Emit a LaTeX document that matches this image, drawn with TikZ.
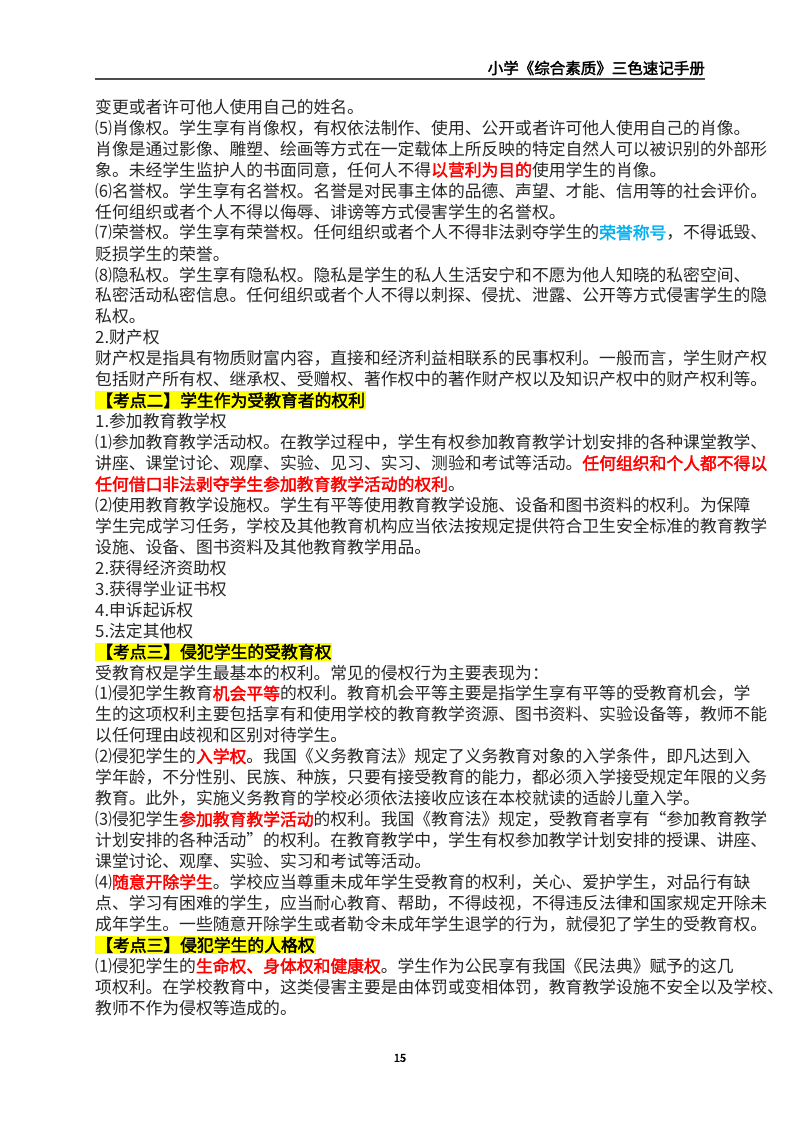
\documentclass[tikz,border=0pt]{standalone}
\usepackage{fontspec}
\setmainfont{Noto Sans CJK SC}
\newfontfamily\bcjk{Noto Sans CJK SC}[FakeBold=2.2]
\XeTeXlinebreaklocale "zh"
\XeTeXlinebreakskip=0pt plus 3pt minus 5pt
\definecolor{kred}{HTML}{FF0000}
\definecolor{kblue}{HTML}{00B0F0}
\definecolor{kyel}{HTML}{FFFF00}
\newcommand{\R}[1]{{\bcjk\color{kred}#1}}
\newcommand{\B}[1]{{\bcjk\color{kblue}#1}}
\newcommand{\TL}[3][ln]{\node[#1] (l#2) at (95,{107+#2*20.95}) {#3};}
\newcommand{\FL}[2]{\node[ln] (l#1) at (95,{107+#1*20.95}) {\makebox[610pt][s]{#2}};}
\begin{document}
\begin{tikzpicture}[x=1pt,y=-1pt,
  ln/.style={anchor=west,inner sep=0pt,font=\fontsize{16.8}{21}\selectfont,text=black!85},
  hd/.style={anchor=west,inner sep=1pt,fill=kyel,font=\fontsize{16.8}{21}\selectfont\bcjk}]
\useasboundingbox[fill=white] (0,0) rectangle (800,1132);
\node[anchor=east,inner sep=0pt,font=\fontsize{15.5}{18}\selectfont\bcjk] (hdr) at (705,68) {小学《综合素质》三色速记手册};
\draw[black!70,line width=1.2pt] (95,79) -- (705,79);
\TL{0}{变更或者许可他人使用自己的姓名。}
\FL{1}{⑸肖像权。学生享有肖像权，有权依法制作、使用、公开或者许可他人使用自己的肖像。}
\FL{2}{肖像是通过影像、雕塑、绘画等方式在一定载体上所反映的特定自然人可以被识别的外部形}
\TL{3}{象。未经学生监护人的书面同意，任何人不得\R{以营利为目的}使用学生的肖像。}
\FL{4}{⑹名誉权。学生享有名誉权。名誉是对民事主体的品德、声望、才能、信用等的社会评价。}
\TL{5}{任何组织或者个人不得以侮辱、诽谤等方式侵害学生的名誉权。}
\FL{6}{⑺荣誉权。学生享有荣誉权。任何组织或者个人不得非法剥夺学生的\B{荣誉称号}，不得诋毁、}
\TL{7}{贬损学生的荣誉。}
\FL{8}{⑻隐私权。学生享有隐私权。隐私是学生的私人生活安宁和不愿为他人知晓的私密空间、}
\FL{9}{私密活动私密信息。任何组织或者个人不得以刺探、侵扰、泄露、公开等方式侵害学生的隐}
\TL{10}{私权。}
\TL{11}{2.财产权}
\FL{12}{财产权是指具有物质财富内容，直接和经济利益相联系的民事权利。一般而言，学生财产权}
\FL{13}{包括财产所有权、继承权、受赠权、著作权中的著作财产权以及知识产权中的财产权利等。}
\TL[hd]{14}{【考点二】学生作为受教育者的权利}
\TL{15}{1.参加教育教学权}
\FL{16}{⑴参加教育教学活动权。在教学过程中，学生有权参加教育教学计划安排的各种课堂教学、}
\FL{17}{讲座、课堂讨论、观摩、实验、见习、实习、测验和考试等活动。\R{任何组织和个人都不得以}}
\TL{18}{\R{任何借口非法剥夺学生参加教育教学活动的权利}。}
\FL{19}{⑵使用教育教学设施权。学生有平等使用教育教学设施、设备和图书资料的权利。为保障}
\FL{20}{学生完成学习任务，学校及其他教育机构应当依法按规定提供符合卫生安全标准的教育教学}
\TL{21}{设施、设备、图书资料及其他教育教学用品。}
\TL{22}{2.获得经济资助权}
\TL{23}{3.获得学业证书权}
\TL{24}{4.申诉起诉权}
\TL{25}{5.法定其他权}
\TL[hd]{26}{【考点三】侵犯学生的受教育权}
\TL{27}{受教育权是学生最基本的权利。常见的侵权行为主要表现为：}
\FL{28}{⑴侵犯学生教育\R{机会平等}的权利。教育机会平等主要是指学生享有平等的受教育机会，学}
\FL{29}{生的这项权利主要包括享有和使用学校的教育教学资源、图书资料、实验设备等，教师不能}
\TL{30}{以任何理由歧视和区别对待学生。}
\FL{31}{⑵侵犯学生的\R{入学权}。我国《义务教育法》规定了义务教育对象的入学条件，即凡达到入}
\FL{32}{学年龄，不分性别、民族、种族，只要有接受教育的能力，都必须入学接受规定年限的义务}
\TL{33}{教育。此外，实施义务教育的学校必须依法接收应该在本校就读的适龄儿童入学。}
\FL{34}{⑶侵犯学生\R{参加教育教学活动}的权利。我国《教育法》规定，受教育者享有“参加教育教学}
\FL{35}{计划安排的各种活动”的权利。在教育教学中，学生有权参加教学计划安排的授课、讲座、}
\TL{36}{课堂讨论、观摩、实验、实习和考试等活动。}
\FL{37}{⑷\R{随意开除学生}。学校应当尊重未成年学生受教育的权利，关心、爱护学生，对品行有缺}
\FL{38}{点、学习有困难的学生，应当耐心教育、帮助，不得歧视，不得违反法律和国家规定开除未}
\FL{39}{成年学生。一些随意开除学生或者勒令未成年学生退学的行为，就侵犯了学生的受教育权。}
\TL[hd]{40}{【考点三】侵犯学生的人格权}
\TL{41}{⑴侵犯学生的\R{生命权、身体权和健康权}。学生作为公民享有我国《民法典》赋予的这几}
\FL{42}{项权利。在学校教育中，这类侵害主要是由体罚或变相体罚，教育教学设施不安全以及学校、}
\TL{43}{教师不作为侵权等造成的。}
\node[inner sep=0pt,font=\fontsize{11}{13}\selectfont\bcjk] (pg) at (400,1058) {15};
\end{tikzpicture}
\end{document}
